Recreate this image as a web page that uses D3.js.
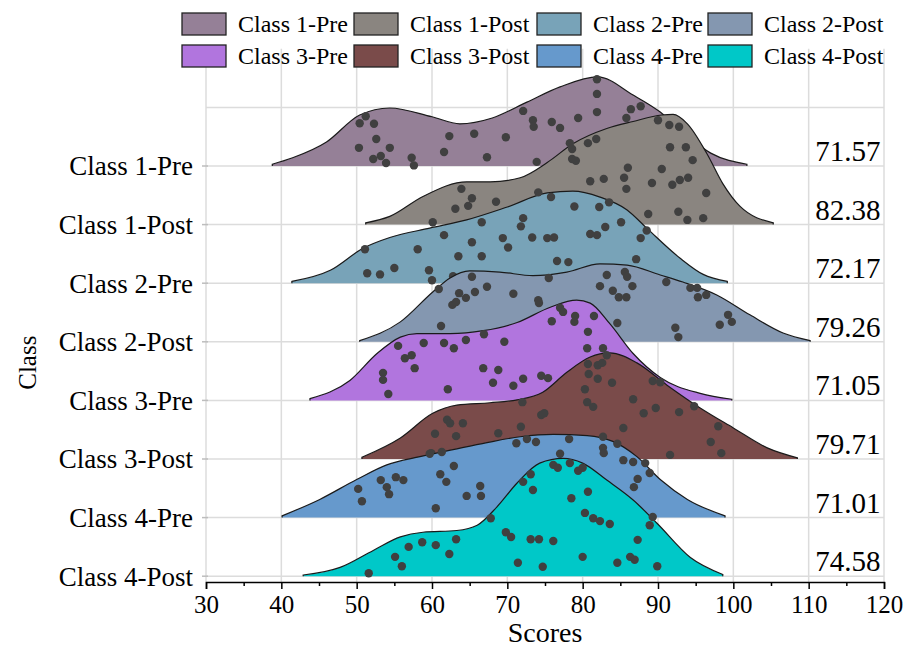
<!DOCTYPE html>
<html>
<head>
<meta charset="utf-8">
<script src="https://cdn.jsdelivr.net/npm/d3@7"></script>
<style>
  body { margin: 0; background: #fff; }
  text { font-family: "Liberation Serif", "Times New Roman", serif; fill: #000; }
</style>
</head>
<body>
<script>
// categories, colours of the groups and the mean score written on each ridge
const classes = ["Class 1-Pre", "Class 1-Post", "Class 2-Pre", "Class 2-Post",
                 "Class 3-Pre", "Class 3-Post", "Class 4-Pre", "Class 4-Post"];
const colors = ["#958097", "#8a8580", "#78a3b8", "#8497b0",
                "#b175de", "#7a4b4a", "#6699cc", "#00c8c8"];
const means = [71.57, 82.38, 72.17, 79.26, 71.05, 79.71, 71.01, 74.58];
const scoreTicks = [30, 40, 50, 60, 70, 80, 90, 100, 110, 120];
const minorTicks = [35, 45, 55, 65, 75, 85, 95, 105, 115];

// ridge outlines: [score, density] (density 1 = one row of the chart)
const dens1Pre = [[38.8,0.03],[41.5,0.14],[46,0.41],[50.4,0.87],[54.4,0.99],[60,0.84],[63.7,0.72],[68,0.82],[72.6,1.09],[77,1.35],[82,1.52],[86.7,1.21],[90.3,0.92],[93.3,0.58],[97,0.22],[101.8,0.03]];
const dens1Post = [[51.2,0.03],[54.4,0.14],[58.8,0.48],[64.6,0.73],[67.7,0.73],[71.7,0.8],[75.3,1.06],[78.7,1.38],[83.2,1.64],[86.7,1.76],[90.5,1.87],[92,1.88],[93.9,1.72],[96.5,1.21],[98.6,0.7],[100.9,0.31],[105.3,0.03]];
const dens2Pre = [[41.4,0.03],[46.5,0.22],[50.9,0.6],[54.4,0.78],[59.7,0.94],[64.6,1.08],[70,1.3],[75.3,1.54],[78.7,1.57],[82.3,1.47],[85.9,1.25],[88.5,0.94],[92.9,0.43],[96,0.15],[99.2,0.03]];
const dens2Post = [[50.4,0.02],[55.8,0.34],[60.1,0.85],[62.4,1.09],[65,1.21],[69,1.19],[73.4,1.13],[77.9,1.19],[82.3,1.33],[85.9,1.31],[90.3,1.14],[93.3,1.02],[97.8,0.8],[102.2,0.46],[106.6,0.15],[110.2,0.02]];
const dens3Pre = [[43.8,0.03],[49.1,0.34],[52.7,0.8],[55.8,1.08],[58,1.14],[62.4,1.14],[66.8,1.19],[71.3,1.33],[75.7,1.59],[79.2,1.71],[81,1.66],[83.6,1.31],[86.7,0.8],[90.3,0.39],[95.6,0.12],[99.8,0.02]];
const dens3Post = [[50.7,0.03],[55.8,0.36],[60.1,0.78],[63.3,0.92],[67.7,0.96],[71.3,1.01],[74.7,1.14],[77.9,1.48],[81,1.74],[83.6,1.81],[87.2,1.64],[91.2,1.26],[95.6,0.87],[100,0.53],[104.5,0.19],[108.5,0.02]];
const dens4Pre = [[40.1,0.03],[45.1,0.31],[50,0.65],[54,0.9],[58.4,1.04],[62.8,1.16],[67.3,1.28],[71.7,1.38],[76.1,1.42],[80.6,1.4],[84,1.3],[87.2,1.04],[90.3,0.65],[93.9,0.31],[98.9,0.03]];
const dens4Post = [[42.9,0.02],[47.8,0.15],[52.2,0.44],[55.8,0.67],[58.8,0.75],[63.3,0.78],[66,0.87],[68.6,1.18],[71.3,1.59],[74.3,1.93],[77.4,2.01],[80,1.93],[83.2,1.64],[86.7,1.3],[89.9,0.9],[94.3,0.32],[98.6,0.03]];

// individual scores: [score, vertical jitter in the same density units]
const pts1Pre = [[51.2,0.85],[50.4,0.73],[52.3,0.72],[52.6,0.46],[50.3,0.31],[54.4,0.31],[52.2,0.12],[53.2,0.17],[53.9,0.05],[57.3,0.14],[57.6,0.01],[61.6,0.24],[62.3,0.51],[65.6,0.55],[67.3,0.15],[69.8,0.49],[72.1,0.94],[73.4,0.78],[73.5,0.67],[73.9,0.07],[75.9,0.75],[77,0.65],[79.4,0.82],[81.9,1.48],[81.9,1.23],[81.9,0.92],[86.4,0.97],[87.7,1.02],[85.8,0.82]];
const pts1Post = [[78.3,1.39],[78.6,1.29],[80.7,1.39],[81.8,1.46],[78.6,1.12],[79.1,1.09],[63.9,0.61],[65.3,0.45],[64.8,0.32],[63.1,0.27],[68.5,0.39],[60.1,0.04],[81,0.74],[82.8,0.78],[85.5,0.8],[85.8,0.61],[86,0.97],[89.2,0.71],[90.5,0.95],[91.9,0.68],[92.9,0.76],[94,0.8],[96.4,0.54],[91.6,1.32],[93.7,1.32],[94.6,1.1],[90,1.78],[91.5,1.7],[92.8,1.67],[88.7,0.18],[92.7,0.22],[93.9,0.08],[96,0.11]];
const pts2Pre = [[51.1,0.58],[61.6,0.82],[58.1,0.58],[51.4,0.17],[53.1,0.15],[55,0.26],[59.6,0.22],[60,0.05],[62.8,0.12],[63.5,0.46],[65.3,0.7],[66.6,0.46],[66.6,1.04],[72.1,1.11],[71.8,0.97],[69.4,0.77],[70.1,0.61],[73.3,0.78],[75.3,0.77],[76.2,0.78],[76.6,0.38],[78.1,0.36],[74.1,1.55],[75.8,1.47],[78.9,1.31],[82.2,1.3],[83.5,1.38],[81,0.84],[81.9,0.82],[83,0.96],[85.1,1.04],[88.5,0.9],[87.7,0.77],[87.1,0.41]];
const pts2Post = [[60.9,0.9],[62.7,0.63],[63.2,0.68],[63.6,0.83],[64.5,0.75],[65.7,0.85],[67.3,0.94],[65.3,1.11],[70.8,0.82],[74.1,0.71],[74.2,0.66],[75.5,1.09],[61.2,0.27],[82.3,0.95],[83.2,1.14],[84,0.87],[84.8,0.76],[85.8,0.76],[85.6,1.19],[85.9,1.11],[86.6,0.95],[91.1,1.02],[94.3,0.92],[95.2,0.92],[95.3,0.76],[96.4,0.8],[92.3,0.24],[92.7,0.08],[98.2,0.29],[99.3,0.46],[99.8,0.34],[84.6,0.32]];
const pts3Pre = [[55.5,0.93],[56.4,0.72],[57.3,0.77],[57.7,0.55],[58.9,0.98],[61.6,0.98],[62.9,0.89],[64.5,1.03],[66.9,1.13],[69.6,1],[66.8,0.55],[68.8,0.52],[53.5,0.47],[53.5,0.35],[54.2,0.11],[62.1,0.19],[68.1,0.3],[70.8,0.25],[72.1,0.37],[74.5,0.42],[75.4,0.38],[75.9,1.35],[77,1.58],[77.4,1.51],[79,1.44],[78.9,1.34],[81.5,1.44],[80.7,1.17],[80.6,0.89],[82.7,0.89]];
const pts3Post = [[80.7,1.62],[82,1.6],[82.6,1.64],[80.8,1.45],[82,1.37],[83.9,1.3],[80.3,1.19],[80.6,0.97],[81.4,0.89],[86.7,1.02],[88.1,0.78],[89.7,0.87],[92.8,0.8],[94.8,0.9],[89.3,1.33],[90.3,1.31],[98,0.56],[97,0.29],[98.4,0.1],[91.6,0.07],[85.4,0.53],[74.5,0.75],[74.9,0.78],[72,0.97],[71.8,0.55],[68.8,0.44],[62,0.67],[62.4,0.61],[64.1,0.61],[60.4,0.43],[63.2,0.39],[59.9,0.1],[83.2,1.77]];
const pts4Pre = [[59.7,1.09],[61.3,1.12],[61.1,0.74],[61.9,0.61],[62.9,0.88],[53.2,0.64],[54,0.52],[54.3,0.4],[55.2,0.69],[56.2,0.64],[50.2,0.49],[50.7,0.28],[60.5,0.16],[64.6,0.37],[66.4,0.54],[66.5,0.37],[71.2,1.27],[72.6,1.34],[73.8,1.29],[78.2,1.34],[77,1.09],[82.7,1.38],[82.7,1.19],[82.8,1.1],[84.6,1.26],[85.4,0.98],[86.7,0.95],[88.3,0.93],[88.9,0.76],[87.3,0.66],[86.8,0.52]];
const pts4Post = [[67.8,0.99],[69.8,0.75],[70.5,0.67],[72.1,1.61],[73.1,1.74],[73.4,1.47],[73.1,0.63],[74.2,0.63],[76.1,0.6],[76.1,1.9],[76.7,1.85],[78.5,1.33],[78.3,1.93],[79.4,1.8],[80,1.85],[80.7,1.44],[80.3,1.08],[81.4,0.99],[82.3,0.94],[83.6,0.89],[88.9,0.87],[89.3,1.01],[87.3,0.62],[86.3,0.33],[86.9,0.28],[84.6,0.23],[89.9,0.17],[80,0.33],[74.7,0.16],[71.4,0.23],[51.6,0.05],[55.1,0.33],[56,0.17],[56.9,0.5],[58.7,0.58],[60.5,0.53],[63.2,0.63],[62.3,0.38]];

const densities = [dens1Pre, dens1Post, dens2Pre, dens2Post, dens3Pre, dens3Post, dens4Pre, dens4Post];
const points = [pts1Pre, pts1Post, pts2Pre, pts2Post, pts3Pre, pts3Post, pts4Pre, pts4Post];

const chart = () => {
  const width = 909, height = 648;
  const axisY = 582;

  const svg = d3.select("body").append("svg")
      .attr("width", width)
      .attr("height", height)
      .style("display", "block");

  const x = d3.scaleLinear().domain([30, 120]).range([206, 884]);
  const y = d3.scalePoint().domain(classes).range([166, 576.2]);
  const step = y.step();
  const h = d3.scaleLinear().domain([0, 1]).range([0, step]);
  const top = y(classes[0]) - step;

  // grid
  const grid = svg.append("g").attr("stroke", "#dcdcdc").attr("stroke-width", 1.5);
  grid.selectAll("line.v")
    .data(scoreTicks)
    .enter().append("line")
      .attr("class", "v")
      .attr("x1", d => x(d)).attr("x2", d => x(d))
      .attr("y1", top - step).attr("y2", axisY);
  grid.selectAll("line.h")
    .data([top].concat(classes.map(c => y(c))))
    .enter().append("line")
      .attr("class", "h")
      .attr("x1", x(30)).attr("x2", x(120))
      .attr("y1", d => d).attr("y2", d => d);

  // ridges, each with its own dots, drawn top to bottom
  const line = d3.line()
      .x(d => x(d[0]))
      .curve(d3.curveMonotoneX);

  classes.forEach((c, i) => {
    const base = y(c);
    const dens = densities[i];
    const g = svg.append("g");

    const area = d3.area()
        .x(d => x(d[0]))
        .y0(base)
        .y1(d => base - h(d[1]))
        .curve(d3.curveMonotoneX);

    g.append("path")
      .datum(dens)
      .attr("fill", colors[i])
      .attr("d", area);

    line.y(d => base - h(d[1]));
    const outline = `M${x(dens[0][0])},${base}` + line(dens).replace(/^M/, "L") +
                    `L${x(dens[dens.length - 1][0])},${base}`;
    g.append("path")
      .attr("d", outline)
      .attr("fill", "none")
      .attr("stroke", "#1a1a1a")
      .attr("stroke-width", 1.2);

    g.selectAll("circle")
      .data(points[i])
      .enter().append("circle")
        .attr("cx", d => x(d[0]))
        .attr("cy", d => base - h(d[1]))
        .attr("r", 4.2)
        .attr("fill", "#404040");

    svg.append("text")
      .attr("x", x(115.2))
      .attr("y", base - 5)
      .attr("text-anchor", "middle")
      .attr("font-size", "29px")
      .text(means[i].toFixed(2));
  });

  // y labels
  const yAxis = svg.append("g");
  yAxis.selectAll("text")
    .data(classes)
    .enter().append("text")
      .attr("x", 193)
      .attr("y", d => y(d))
      .attr("dy", "0.35em")
      .attr("text-anchor", "end")
      .attr("font-size", "27px")
      .text(d => d);
  yAxis.selectAll("line")
    .data(classes)
    .enter().append("line")
      .attr("x1", 202).attr("x2", 208)
      .attr("y1", d => y(d)).attr("y2", d => y(d))
      .attr("stroke", "#bdbdbd").attr("stroke-width", 1.5);

  svg.append("text")
    .attr("transform", `translate(36, ${(top + axisY) / 2 + 18}) rotate(-90)`)
    .attr("text-anchor", "middle")
    .attr("font-size", "25px")
    .text("Class");

  // x axis
  const xAxis = svg.append("g")
      .attr("transform", `translate(0, ${axisY})`)
      .call(d3.axisBottom(x).tickValues(scoreTicks).tickSize(7).tickFormat(d3.format("d")));
  xAxis.select(".domain").attr("stroke", "#000").attr("stroke-width", 1.5);
  xAxis.selectAll(".tick line").attr("stroke", "#000").attr("stroke-width", 1.5);
  xAxis.selectAll(".tick text")
      .attr("y", 31).attr("dy", 0)
      .attr("font-size", "25px")
      .attr("font-family", "Liberation Serif, Times New Roman, serif");

  const minor = svg.append("g")
      .attr("transform", `translate(0, ${axisY})`)
      .call(d3.axisBottom(x).tickValues(minorTicks).tickSize(4).tickFormat(""));
  minor.select(".domain").remove();
  minor.selectAll(".tick line").attr("stroke", "#000").attr("stroke-width", 1.5);

  svg.append("text")
    .attr("x", 545)
    .attr("y", 642)
    .attr("text-anchor", "middle")
    .attr("font-size", "28px")
    .text("Scores");

  // legend
  const legendCols = [182, 354, 537, 708];
  const legendRows = [13, 45];
  const legend = svg.append("g");
  classes.forEach((c, i) => {
    const lx = legendCols[i % 4], ly = legendRows[Math.floor(i / 4)];
    legend.append("rect")
      .attr("x", lx).attr("y", ly)
      .attr("width", 44).attr("height", 22)
      .attr("fill", colors[i])
      .attr("stroke", "#222").attr("stroke-width", 1.3);
    legend.append("text")
      .attr("x", lx + 56)
      .attr("y", ly + 11)
      .attr("dy", "0.35em")
      .attr("font-size", "24px")
      .text(c);
  });
};

chart();
</script>
</body>
</html>
